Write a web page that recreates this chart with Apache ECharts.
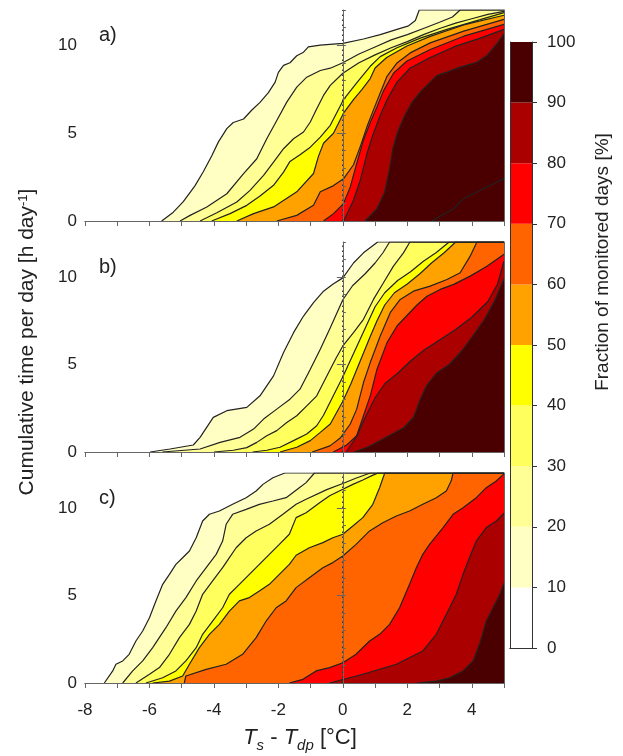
<!DOCTYPE html>
<html>
<head>
<meta charset="utf-8">
<style>
  html, body { margin: 0; padding: 0; background: #fff; }
  #chart { width: 623px; height: 756px; }
</style>
</head>
<body>
<div id="chart"></div>
<script src="https://cdn.jsdelivr.net/npm/echarts@6/dist/echarts.min.js"></script>
<script>
  // contour lines [Ts - Tdp, hours] for 10 % ... 100 % of monitored days
  // panel a
  const a10 = [[-5.62,0],[-5.26,0.5],[-4.95,1.1],[-4.59,2.0],[-4.33,2.8],[-4.07,3.7],[-3.86,4.5],[-3.6,5.25],[-3.4,5.6],[-3.08,5.8],[-2.83,6.3],[-2.57,6.75],[-2.31,7.3],[-2.1,7.9],[-2.0,8.45],[-1.84,8.85],[-1.64,9.0],[-1.43,9.4],[-1.22,9.6],[-1.07,9.9],[-0.7,10.0],[0,10.1],[0.64,10.35],[1.16,10.6],[1.68,10.9],[2.04,11.1],[2.25,11.4],[2.37,12]];
  const a20 = [[-5.05,0],[-4.74,0.32],[-4.22,0.8],[-3.6,1.55],[-3.08,2.69],[-2.67,3.54],[-2.36,4.68],[-2.05,5.72],[-1.74,6.76],[-1.43,7.61],[-1.12,8.18],[-0.7,8.56],[-0.39,8.69],[0,9.0],[0.5,9.5],[1.0,9.9],[1.5,10.3],[2.0,10.6],[2.5,10.95],[3.0,11.3],[3.4,11.6],[3.64,12]];
  const a30 = [[-4.43,0],[-3.91,0.47],[-3.29,1.08],[-2.88,1.74],[-2.46,2.59],[-2.15,3.35],[-1.84,4.11],[-1.53,4.68],[-1.22,5.06],[-1.01,5.63],[-0.81,6.38],[-0.6,7.14],[-0.39,7.71],[0,8.4],[0.5,9.0],[1.0,9.45],[1.5,9.85],[2.0,10.2],[2.5,10.6],[3.0,10.95],[3.5,11.25],[4.0,11.5],[4.5,11.75],[5,11.92]];
  const a40 = [[-4.07,0],[-3.5,0.42],[-2.98,0.89],[-2.57,1.42],[-2.15,2.03],[-1.84,2.78],[-1.64,3.39],[-1.33,3.77],[-1.01,4.2],[-0.7,4.77],[-0.39,5.44],[0.02,6.9],[0.43,7.85],[0.85,8.8],[1.16,9.35],[1.68,9.85],[2.4,10.4],[3.23,10.9],[4.26,11.45],[5,11.85]];
  const a50 = [[-3.29,0],[-2.77,0.42],[-2.15,0.8],[-1.43,1.66],[-0.91,2.7],[-0.76,3.66],[-0.6,4.42],[-0.29,4.99],[0.02,6.13],[0.33,6.9],[0.59,7.47],[0.85,8.1],[1.0,8.7],[1.36,9.3],[1.99,9.95],[2.71,10.5],[3.75,11.15],[5,11.7]];
  const a60 = [[-2.05,0],[-1.43,0.32],[-0.91,0.9],[-0.7,1.66],[-0.3,2.0],[0.02,2.4],[0.33,3.2],[0.54,4.23],[0.75,5.37],[0.95,6.32],[1.16,7.28],[1.37,8.23],[1.68,8.99],[2.09,9.56],[2.71,10.13],[3.75,10.8],[5,11.47]];
  const a70 = [[-0.6,0],[-0.29,0.42],[0.02,0.99],[0.23,1.94],[0.43,3.28],[0.64,4.61],[0.85,5.6],[1.06,6.5],[1.26,7.4],[1.57,8.4],[1.99,9.1],[2.71,9.75],[3.75,10.51],[5,11.18]];
  const a80 = [[0.02,0],[0.33,1.18],[0.54,2.32],[0.75,3.85],[0.95,4.99],[1.16,6.0],[1.37,6.9],[1.68,7.9],[2.09,8.7],[2.71,9.3],[3.44,9.9],[4.26,10.4],[5,10.9]];
  const a90 = [[0.69,0],[1.06,0.7],[1.3,1.65],[1.45,2.97],[1.55,4.11],[1.7,5.06],[1.92,6.0],[2.15,6.76],[2.4,7.33],[2.71,7.9],[2.92,8.28],[3.23,8.47],[3.64,8.75],[4.16,9.03],[4.47,9.41],[4.78,10.08],[5,10.64]];
  const a100 = [[2.75,0],[3.44,0.7],[3.75,1.27],[4.16,1.65],[4.58,2.03],[5,2.41]];

  // panel b
  const b10 = [[-5.98,0],[-5.36,0.17],[-4.64,0.4],[-4.43,0.84],[-4.02,1.98],[-3.6,2.36],[-2.98,2.55],[-2.57,3.21],[-2.15,4.35],[-1.84,5.68],[-1.53,6.82],[-1.22,7.77],[-0.91,8.53],[-0.6,9.19],[-0.3,9.6],[0,9.95],[0.33,10.8],[0.64,11.38],[1.08,12]];
  const b20 = [[-5.6,0],[-4.43,0.17],[-3.81,0.55],[-3.19,0.84],[-2.77,1.31],[-2.46,1.88],[-2.05,2.45],[-1.64,3.02],[-1.33,3.59],[-1.01,4.73],[-0.7,5.87],[-0.39,7.1],[0,8.7],[0.3,9.5],[0.7,10.2],[1.0,10.8],[1.25,11.4],[1.45,12]];
  const b30 = [[-4.0,0],[-3.4,0.1],[-2.98,0.25],[-2.67,0.55],[-2.36,0.93],[-2.05,1.22],[-1.74,1.69],[-1.43,2.07],[-1.12,2.64],[-0.81,3.21],[-0.6,3.97],[-0.39,4.73],[-0.2,5.4],[0,6.06],[0.33,6.82],[0.64,7.58],[0.95,8.72],[1.26,9.67],[1.57,10.62],[1.88,11.38],[2.08,12]];
  const b40 = [[-2.8,0],[-2.36,0.1],[-1.95,0.27],[-1.53,0.65],[-1.12,1.03],[-0.81,1.5],[-0.6,2.1],[-0.3,3.2],[0,4.3],[0.3,5.5],[0.55,6.5],[0.8,7.5],[1.0,8.3],[1.3,9.1],[1.7,9.8],[2.1,10.3],[2.5,10.9],[2.9,11.4],[3.3,12]];
  const b50 = [[-1.95,0],[-1.43,0.27],[-1.01,0.65],[-0.7,1.12],[-0.39,1.6],[0,2.9],[0.25,3.9],[0.45,4.8],[0.65,5.7],[0.85,6.6],[1.06,7.5],[1.3,8.4],[1.6,9.1],[2.0,9.6],[2.4,10.2],[2.75,10.8],[3.15,11.4],[3.5,12]];
  const b60 = [[-0.95,0],[-0.4,0.35],[-0.08,0.8],[0.23,1.6],[0.43,2.45],[0.64,3.97],[0.85,5.11],[1.16,6.63],[1.47,7.96],[1.78,8.72],[2.19,9.19],[2.71,9.48],[3.23,9.86],[3.64,10.24],[3.95,11.19],[4.16,12]];
  const b70 = [[-0.3,0],[0.12,0.4],[0.43,0.93],[0.64,2.07],[0.85,3.21],[1.06,4.73],[1.37,6.25],[1.68,7.2],[1.99,7.8],[2.3,8.4],[2.61,8.9],[3.02,9.29],[3.44,9.58],[3.95,10.05],[4.47,10.62],[5,11.3]];
  const b80 = [[0.1,0],[0.4,0.8],[0.7,2.0],[1.0,3.1],[1.3,3.9],[1.7,4.5],[2.1,5.2],[2.5,5.8],[3.0,6.4],[3.5,7.0],[4.0,7.7],[4.5,8.6],[4.8,9.6],[5,10.9]];
  const b90 = [[0.35,0],[0.8,0.3],[1.3,0.8],[1.9,1.4],[2.2,2.0],[2.4,3.0],[2.6,3.8],[2.9,4.5],[3.3,5.0],[3.7,5.8],[4.1,6.8],[4.4,7.6],[4.7,8.6],[5,9.9]];

  // panel c
  const c10 = [[-7.4,0],[-7.14,0.69],[-7.04,1.07],[-6.83,1.26],[-6.63,1.64],[-6.42,2.4],[-6.21,2.97],[-6.0,3.73],[-5.8,4.69],[-5.59,5.64],[-5.38,6.21],[-5.18,6.78],[-4.97,7.16],[-4.76,7.54],[-4.55,8.3],[-4.35,9.26],[-4.14,9.64],[-3.83,9.83],[-3.42,10.21],[-3.0,10.59],[-2.69,10.97],[-2.48,11.35],[-2.17,11.73],[-1.8,12]];
  const c20 = [[-6.83,0],[-6.52,0.69],[-6.21,1.26],[-5.9,2.02],[-5.49,3.16],[-5.18,4.11],[-4.87,4.88],[-4.55,5.83],[-4.24,6.59],[-3.93,7.35],[-3.73,8.11],[-3.62,9.07],[-3.42,9.64],[-3.0,9.92],[-2.59,10.21],[-2.17,10.4],[-1.76,10.59],[-1.35,11.16],[-1.14,11.45],[-0.88,12]];
  const c30 = [[-6.42,0],[-6.0,0.5],[-5.69,0.88],[-5.38,1.64],[-5.07,2.59],[-4.76,3.35],[-4.55,4.11],[-4.35,5.07],[-4.04,5.83],[-3.73,6.59],[-3.52,7.16],[-3.31,7.73],[-3.0,8.3],[-2.69,8.69],[-2.28,9.07],[-1.86,9.64],[-1.45,10.21],[-1.14,10.5],[-0.5,11.05],[0,11.4],[0.4,11.7],[0.85,12]];
  const c40 = [[-6.11,0],[-5.59,0.3],[-5.18,0.69],[-4.87,1.26],[-4.55,2.02],[-4.35,2.78],[-4.04,3.54],[-3.73,4.3],[-3.52,5.07],[-3.21,5.64],[-2.9,6.21],[-2.59,6.78],[-2.28,7.35],[-1.97,7.92],[-1.66,8.5],[-1.45,9.45],[-1.14,9.73],[-0.72,10.3],[-0.41,10.7],[0,11.07],[0.31,11.35],[0.62,11.6],[0.9,11.85],[1.1,12]];
  const c50 = [[-5.9,0],[-5.38,0.11],[-4.97,0.4],[-4.76,1.07],[-4.45,2.02],[-4.14,2.78],[-3.83,3.35],[-3.52,4.11],[-3.21,4.69],[-2.9,4.88],[-2.59,5.26],[-2.28,5.64],[-1.97,6.21],[-1.66,6.78],[-1.45,7.3],[-1.04,7.73],[-0.62,8.02],[-0.31,8.3],[0,8.5],[0.31,8.97],[0.62,9.45],[0.93,10.21],[1.14,11.16],[1.3,12]];
  const c60 = [[-4.92,0],[-4.87,0.4],[-4.24,0.78],[-3.62,1.07],[-3.11,1.64],[-2.69,2.59],[-2.38,3.54],[-2.07,4.3],[-1.76,4.69],[-1.45,5.45],[-1.04,6.02],[-0.62,6.59],[-0.31,6.88],[0,7.26],[0.41,7.92],[0.83,8.69],[1.24,9.16],[1.66,9.54],[2.07,9.83],[2.48,10.21],[2.9,10.59],[3.21,10.97],[3.36,11.54],[3.42,12]];
  const c70 = [[-1.66,0],[-1.24,0.21],[-0.83,0.69],[-0.41,0.88],[0,1.16],[0.41,1.64],[0.83,2.4],[1.14,2.78],[1.45,3.35],[1.76,4.3],[2.07,5.64],[2.28,6.59],[2.48,7.35],[2.69,7.92],[3.11,8.88],[3.42,9.64],[3.73,10.02],[4.14,10.59],[4.45,11.16],[4.76,11.54],[5,11.95]];
  const c80 = [[-0.41,0],[0.62,0.5],[1.66,1.07],[2.48,1.83],[2.9,2.78],[3.21,3.92],[3.52,5.07],[3.73,6.21],[3.93,7.16],[4.14,8.11],[4.45,8.88],[4.76,9.26],[5,9.7]];
  const c90 = [[2.3,0],[2.9,0.11],[3.31,0.3],[3.73,0.69],[4.04,1.26],[4.24,2.21],[4.45,3.54],[4.66,4.3],[4.87,5.07],[5,5.7]];

  const cbLevels = [0, 10, 20, 30, 40, 50, 60, 70, 80, 90, 100];

  const panels = [
    { label: 'a)', curves: [a10, a20, a30, a40, a50, a60, a70, a80, a90, a100] },
    { label: 'b)', curves: [b10, b20, b30, b40, b50, b60, b70, b80, b90] },
    { label: 'c)', curves: [c10, c20, c30, c40, c50, c60, c70, c80, c90] }
  ];

  // colour of the band above each contour level (0-10 is white)
  const bandColors = ['#ffffff', '#ffffc4', '#ffff96', '#ffff5e', '#ffff00', '#ffa200', '#ff6400', '#ff0000', '#aa0000', '#4a0000'];

  const font = 'Liberation Sans, Arial, sans-serif';
  const frame = '#666';
  const panelBox = [
    { top: 10, height: 211 },
    { top: 242, height: 210 },
    { top: 473, height: 210 }
  ];

  const chart = echarts.init(document.getElementById('chart'), null, { renderer: 'canvas' });

  let grid = [], xAxis = [], yAxis = [], series = [];

  panels.forEach((p, i) => {
    grid.push({ left: 85, width: 419, top: panelBox[i].top, height: panelBox[i].height });
    const xi = xAxis.length, yi = yAxis.length;
    // bottom x axis
    xAxis.push({
      gridIndex: i, type: 'value', min: -8, max: 5, interval: 1, z: 10,
      axisLine: { lineStyle: { color: frame } },
      axisTick: { length: 5, lineStyle: { color: frame } },
      axisLabel: { show: i === 2, fontSize: 17, color: '#222', fontFamily: font, margin: 19,
        formatter: v => (v % 2 === 0 ? String(v) : '') },
      splitLine: { show: false }
    });
    // top frame
    xAxis.push({
      gridIndex: i, type: 'value', position: 'top', min: -8, max: 5, z: 10,
      axisLine: { show: true, lineStyle: { color: frame } },
      axisTick: { show: false }, axisLabel: { show: false }, splitLine: { show: false }
    });
    // left y axis, labelled
    yAxis.push({
      gridIndex: i, type: 'value', min: 0, max: 12, interval: 5, z: 10,
      axisLine: { show: true, lineStyle: { color: frame } },
      axisTick: { show: true, length: 6, lineStyle: { color: frame } },
      axisLabel: { fontSize: 17, color: '#222', fontFamily: font, margin: 8, showMaxLabel: false },
      splitLine: { show: false }
    });
    // left y axis, minor ticks
    yAxis.push({
      gridIndex: i, type: 'value', min: 0, max: 12, interval: 1, z: 10,
      axisLine: { show: false },
      axisTick: { show: true, length: 3, lineStyle: { color: frame } },
      axisLabel: { show: false }, splitLine: { show: false }
    });
    // right frame
    yAxis.push({
      gridIndex: i, type: 'value', position: 'right', min: 0, max: 12, z: 10,
      axisLine: { show: true, lineStyle: { color: frame } },
      axisTick: { show: false }, axisLabel: { show: false }, splitLine: { show: false }
    });

    p.curves.forEach((curve, k) => {
      let pts = curve.slice();
      const last = pts[pts.length - 1];
      if (last[0] < 5) pts.push([5, last[1]]);
      series.push({
        type: 'line', xAxisIndex: xi, yAxisIndex: yi, data: pts,
        showSymbol: false, silent: true, animation: false,
        lineStyle: { color: '#222', width: 1.2 },
        areaStyle: { color: bandColors[Math.min(k + 1, 9)], opacity: 1 }
      });
    });

    // dotted line at Ts - Tdp = 0
    series.push({
      type: 'line', xAxisIndex: xi, yAxisIndex: yi, data: [[0, 0], [0, 12]],
      showSymbol: false, silent: true, animation: false, z: 5,
      lineStyle: { color: '#333', width: 1.6, type: [1.6, 3.4] }
    });
  });

  // colour bar
  grid.push({ left: 510, width: 22, top: 42, height: 606 });
  const cbx = xAxis.length, cby = yAxis.length;
  xAxis.push({
    gridIndex: 3, type: 'category', data: ['cb'], z: 10,
    axisLine: { lineStyle: { color: '#333' } }, axisTick: { show: false }, axisLabel: { show: false }
  });
  xAxis.push({
    gridIndex: 3, type: 'category', data: ['cb'], position: 'top', z: 10,
    axisLine: { lineStyle: { color: '#333' } }, axisTick: { show: false }, axisLabel: { show: false }
  });
  yAxis.push({
    gridIndex: 3, type: 'value', position: 'right', min: 0, max: 100, interval: 10, z: 10,
    axisLine: { show: true, lineStyle: { color: '#333' } },
    axisTick: { show: true, length: 5, lineStyle: { color: '#333' } },
    axisLabel: { fontSize: 17, color: '#222', fontFamily: font, margin: 15 },
    splitLine: { show: false }
  });
  yAxis.push({
    gridIndex: 3, type: 'value', position: 'left', min: 0, max: 100, z: 10,
    axisLine: { show: true, lineStyle: { color: '#333' } },
    axisTick: { show: false }, axisLabel: { show: false }, splitLine: { show: false }
  });
  for (let k = 1; k < cbLevels.length; k++) {
    series.push({
      type: 'bar', xAxisIndex: cbx, yAxisIndex: cby, stack: 'cb', barWidth: '100%',
      data: [cbLevels[k] - cbLevels[k - 1]], silent: true, animation: false,
      itemStyle: { color: bandColors[k - 1] }
    });
  }

  const graphic = [
    {
      type: 'text', x: 27, y: 342, rotation: Math.PI / 2,
      style: {
        text: 'Cumulative time per day [h day{sup|-1}]',
        fontSize: 21, fontFamily: font, fill: '#222',
        textAlign: 'center', textVerticalAlign: 'middle',
        rich: { sup: { fontSize: 13, fontFamily: font, fill: '#222', verticalAlign: 'top' } }
      }
    },
    {
      type: 'text', x: 300, y: 738,
      style: {
        text: '{i|T}{s|s} - {i|T}{s|dp} [°C]',
        fontSize: 22, fontFamily: font, fill: '#222', lineHeight: 30,
        textAlign: 'center', textVerticalAlign: 'middle',
        rich: {
          i: { fontSize: 22, fontStyle: 'italic', fontFamily: font, fill: '#222', lineHeight: 30 },
          s: { fontSize: 15, fontStyle: 'italic', fontFamily: font, fill: '#222', verticalAlign: 'bottom', lineHeight: 30 }
        }
      }
    },
    {
      type: 'text', x: 603, y: 262, rotation: Math.PI / 2,
      style: {
        text: 'Fraction of monitored days [%]', fontSize: 19, fontFamily: font, fill: '#222',
        textAlign: 'center', textVerticalAlign: 'middle'
      }
    }
  ];
  panels.forEach((p, i) => {
    graphic.push({
      type: 'text', x: 99, y: panelBox[i].top + 25,
      style: { text: p.label, fontSize: 20, fontFamily: font, fill: '#222', textVerticalAlign: 'middle' }
    });
  });

  chart.setOption({
    animation: false,
    grid: grid,
    xAxis: xAxis,
    yAxis: yAxis,
    series: series,
    graphic: graphic
  });
</script>
</body>
</html>
